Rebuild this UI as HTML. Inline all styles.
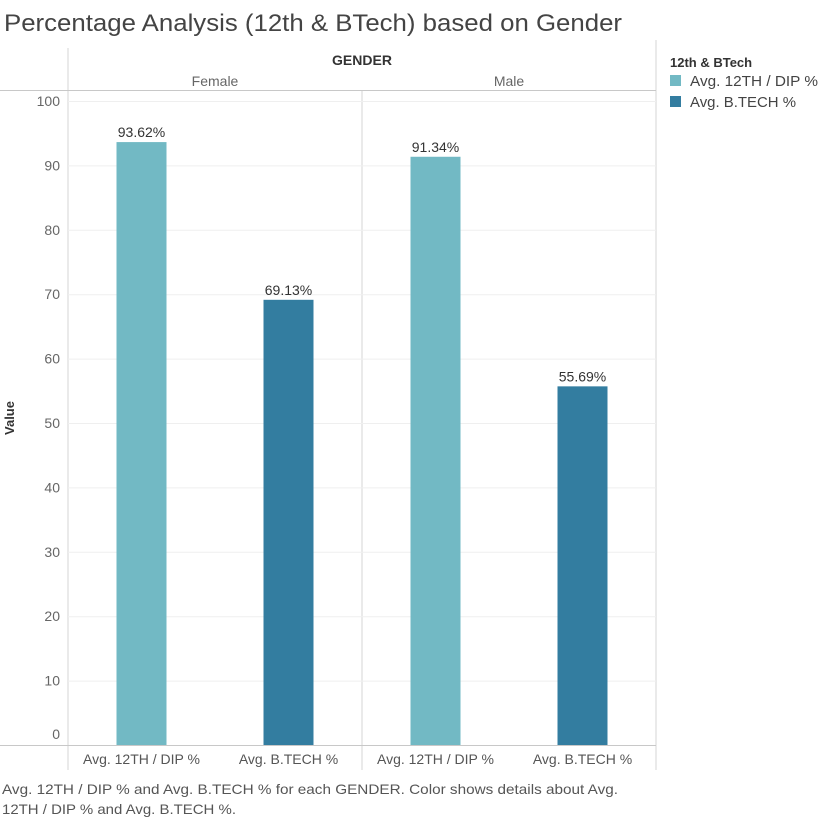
<!DOCTYPE html>
<html><head><meta charset="utf-8"><style>
html,body{margin:0;padding:0;background:#fff;width:824px;height:821px;overflow:hidden}
svg{display:block;font-family:"Liberation Sans",sans-serif}
</style></head><body>
<svg id="c" width="824" height="821">
<text x="4" y="31" font-size="24" fill="#444" textLength="618" lengthAdjust="spacingAndGlyphs">Percentage Analysis (12th &amp; BTech) based on Gender</text>
<line x1="68" y1="48" x2="68" y2="770" stroke="#d4d4d4"/>
<line x1="362" y1="90" x2="362" y2="770" stroke="#d4d4d4"/>
<line x1="656" y1="40" x2="656" y2="770" stroke="#d4d4d4"/>
<line x1="0" y1="90.5" x2="656" y2="90.5" stroke="#c8c8c8"/>
<line x1="0" y1="745.5" x2="656" y2="745.5" stroke="#c8c8c8"/>
<text x="362" y="65" font-size="14" text-anchor="middle" fill="#333" font-weight="bold">GENDER</text>
<text x="14" y="418" font-size="13" font-weight="bold" fill="#333" transform="rotate(-90 14 418)" text-anchor="middle">Value</text>
<g id="grid"></g><g id="yt"></g><g id="bars"></g><g id="hdr"></g><g id="xl"></g>
<text x="670" y="67" font-size="13" font-weight="bold" fill="#333">12th &amp; BTech</text>
<rect x="670" y="75" width="11" height="11" fill="#72b9c4"/>
<text x="690" y="86" font-size="15" fill="#444" textLength="128" lengthAdjust="spacingAndGlyphs">Avg. 12TH / DIP %</text>
<rect x="670" y="96" width="11" height="11" fill="#337da0"/>
<text x="690" y="107" font-size="15" fill="#444" textLength="106" lengthAdjust="spacingAndGlyphs">Avg. B.TECH %</text>
<text x="2" y="794" font-size="14" fill="#555" textLength="616" lengthAdjust="spacingAndGlyphs">Avg. 12TH / DIP % and Avg. B.TECH % for each GENDER.  Color shows details about Avg.</text>
<text x="2" y="814" font-size="14" fill="#555" textLength="234" lengthAdjust="spacingAndGlyphs">12TH / DIP % and Avg. B.TECH %.</text>
</svg>
<script>
const genders=["Female","Male"];
const measures=["Avg. 12TH / DIP %","Avg. B.TECH %"];
const twelfth=[93.62,91.34];
const btech=[69.13,55.69];
const ticks=[0,10,20,30,40,50,60,70,80,90,100];
const colors=["#72b9c4","#337da0"];
const NS="http://www.w3.org/2000/svg";
const y=v=>745-v*6.44;
function mk(t,a,p,txt){const e=document.createElementNS(NS,t);for(const k in a)e.setAttribute(k,a[k]);if(txt!=null)e.textContent=txt;p.appendChild(e);return e;}
const grid=document.getElementById('grid'),yt=document.getElementById('yt'),bars=document.getElementById('bars'),hdr=document.getElementById('hdr'),xl=document.getElementById('xl');
ticks.forEach(t=>{
  if(t>0){const g=mk('line',{x1:68,x2:656,y1:y(t)+0.5,y2:y(t)+0.5,stroke:'#efefef'},grid);
  
  }
  const ty=t===0?y(t)-6:y(t)+5;
  const l=mk('text',{x:60,y:ty,'font-size':14,fill:'#666','text-anchor':'end'},yt,String(t));
  
  
});
const paneW=294;
genders.forEach((g,gi)=>{
  const px=68+gi*paneW;
  const h=mk('text',{x:px+paneW/2,y:86,'font-size':14,fill:'#666','text-anchor':'middle'},hdr,g);
  
  
  const vals=[twelfth[gi],btech[gi]];
  vals.forEach((v,mi)=>{
    const cx=px+paneW/4+mi*paneW/2;
    const b=mk('rect',{x:cx-25,y:y(v),width:50,height:745-y(v),fill:colors[mi]},bars);
    
    
    const t=mk('text',{x:cx,y:y(v)-5,'font-size':14,fill:'#333','text-anchor':'middle'},bars,v.toFixed(2)+'%');
    
    
    const x=mk('text',{x:cx,y:764,'font-size':14,fill:'#555','text-anchor':'middle'},xl,measures[mi]);
    
    
  });
});
</script>
</body></html>
